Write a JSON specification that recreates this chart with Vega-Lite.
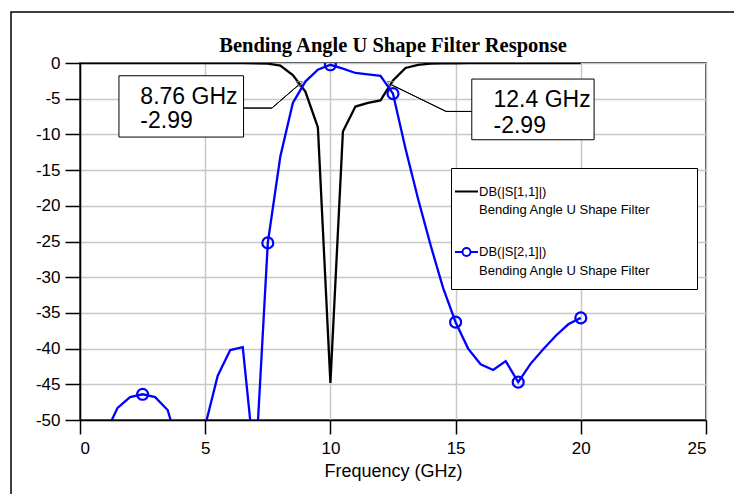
{
  "$schema": "https://vega.github.io/schema/vega-lite/v6.json",
  "autosize": {"type": "none"},
  "width": 626,
  "height": 357,
  "padding": {"left": 80, "top": 63, "right": 28, "bottom": 74},
  "background": "white",
  "title": {
    "text": "Bending Angle U Shape Filter Response",
    "font": "Liberation Serif",
    "fontSize": 20.5,
    "fontWeight": "bold",
    "color": "black",
    "anchor": "middle",
    "baseline": "alphabetic",
    "offset": 11,
    "dy": 74,
    "frame": "group"
  },
  "datasets": {
    "curves": [
      {"f": 0, "series": "DB(|S[1,1]|)", "db": 0},
      {"f": 0.5, "series": "DB(|S[1,1]|)", "db": 0},
      {"f": 1, "series": "DB(|S[1,1]|)", "db": 0},
      {"f": 1.5, "series": "DB(|S[1,1]|)", "db": 0},
      {"f": 2, "series": "DB(|S[1,1]|)", "db": 0},
      {"f": 2.5, "series": "DB(|S[1,1]|)", "db": 0},
      {"f": 3, "series": "DB(|S[1,1]|)", "db": 0},
      {"f": 3.5, "series": "DB(|S[1,1]|)", "db": 0},
      {"f": 4, "series": "DB(|S[1,1]|)", "db": 0},
      {"f": 4.5, "series": "DB(|S[1,1]|)", "db": -0.01},
      {"f": 5, "series": "DB(|S[1,1]|)", "db": -0.01},
      {"f": 5.5, "series": "DB(|S[1,1]|)", "db": -0.02},
      {"f": 6, "series": "DB(|S[1,1]|)", "db": -0.02},
      {"f": 6.5, "series": "DB(|S[1,1]|)", "db": -0.03},
      {"f": 7, "series": "DB(|S[1,1]|)", "db": -0.05},
      {"f": 7.5, "series": "DB(|S[1,1]|)", "db": -0.1},
      {"f": 8, "series": "DB(|S[1,1]|)", "db": -0.35},
      {"f": 8.5, "series": "DB(|S[1,1]|)", "db": -1.7},
      {"f": 9, "series": "DB(|S[1,1]|)", "db": -4.0},
      {"f": 9.5, "series": "DB(|S[1,1]|)", "db": -9.0},
      {"f": 10, "series": "DB(|S[1,1]|)", "db": -44.8},
      {"f": 10.5, "series": "DB(|S[1,1]|)", "db": -9.6},
      {"f": 11, "series": "DB(|S[1,1]|)", "db": -6.1},
      {"f": 11.5, "series": "DB(|S[1,1]|)", "db": -5.6},
      {"f": 12, "series": "DB(|S[1,1]|)", "db": -5.25},
      {"f": 12.5, "series": "DB(|S[1,1]|)", "db": -2.45},
      {"f": 13, "series": "DB(|S[1,1]|)", "db": -0.7},
      {"f": 13.5, "series": "DB(|S[1,1]|)", "db": -0.25},
      {"f": 14, "series": "DB(|S[1,1]|)", "db": -0.1},
      {"f": 14.5, "series": "DB(|S[1,1]|)", "db": -0.06},
      {"f": 15, "series": "DB(|S[1,1]|)", "db": -0.04},
      {"f": 15.5, "series": "DB(|S[1,1]|)", "db": -0.03},
      {"f": 16, "series": "DB(|S[1,1]|)", "db": -0.03},
      {"f": 16.5, "series": "DB(|S[1,1]|)", "db": -0.02},
      {"f": 17, "series": "DB(|S[1,1]|)", "db": -0.02},
      {"f": 17.5, "series": "DB(|S[1,1]|)", "db": -0.02},
      {"f": 18, "series": "DB(|S[1,1]|)", "db": -0.01},
      {"f": 18.5, "series": "DB(|S[1,1]|)", "db": -0.01},
      {"f": 19, "series": "DB(|S[1,1]|)", "db": -0.01},
      {"f": 19.5, "series": "DB(|S[1,1]|)", "db": -0.01},
      {"f": 20, "series": "DB(|S[1,1]|)", "db": -0.01},
      {"f": 0, "series": "DB(|S[2,1]|)", "db": -62},
      {"f": 0.5, "series": "DB(|S[2,1]|)", "db": -56},
      {"f": 1, "series": "DB(|S[2,1]|)", "db": -52},
      {"f": 1.5, "series": "DB(|S[2,1]|)", "db": -48.3},
      {"f": 2, "series": "DB(|S[2,1]|)", "db": -46.8},
      {"f": 2.5, "series": "DB(|S[2,1]|)", "db": -46.4},
      {"f": 3, "series": "DB(|S[2,1]|)", "db": -46.8},
      {"f": 3.5, "series": "DB(|S[2,1]|)", "db": -48.6},
      {"f": 4, "series": "DB(|S[2,1]|)", "db": -54.5},
      {"f": 4.5, "series": "DB(|S[2,1]|)", "db": -60},
      {"f": 5, "series": "DB(|S[2,1]|)", "db": -50.8},
      {"f": 5.5, "series": "DB(|S[2,1]|)", "db": -43.8},
      {"f": 6, "series": "DB(|S[2,1]|)", "db": -40.2},
      {"f": 6.5, "series": "DB(|S[2,1]|)", "db": -39.8},
      {"f": 7, "series": "DB(|S[2,1]|)", "db": -57},
      {"f": 7.5, "series": "DB(|S[2,1]|)", "db": -25.2},
      {"f": 8, "series": "DB(|S[2,1]|)", "db": -13.1},
      {"f": 8.5, "series": "DB(|S[2,1]|)", "db": -5.6},
      {"f": 9, "series": "DB(|S[2,1]|)", "db": -2.6},
      {"f": 9.5, "series": "DB(|S[2,1]|)", "db": -0.94},
      {"f": 10, "series": "DB(|S[2,1]|)", "db": -0.25},
      {"f": 10.5, "series": "DB(|S[2,1]|)", "db": -0.8},
      {"f": 11, "series": "DB(|S[2,1]|)", "db": -1.4},
      {"f": 11.5, "series": "DB(|S[2,1]|)", "db": -1.6},
      {"f": 12, "series": "DB(|S[2,1]|)", "db": -1.8},
      {"f": 12.5, "series": "DB(|S[2,1]|)", "db": -4.3},
      {"f": 13, "series": "DB(|S[2,1]|)", "db": -12},
      {"f": 13.5, "series": "DB(|S[2,1]|)", "db": -19},
      {"f": 14, "series": "DB(|S[2,1]|)", "db": -25.5},
      {"f": 14.5, "series": "DB(|S[2,1]|)", "db": -31.5},
      {"f": 15, "series": "DB(|S[2,1]|)", "db": -36.3},
      {"f": 15.5, "series": "DB(|S[2,1]|)", "db": -40},
      {"f": 16, "series": "DB(|S[2,1]|)", "db": -42.2},
      {"f": 16.5, "series": "DB(|S[2,1]|)", "db": -43},
      {"f": 17, "series": "DB(|S[2,1]|)", "db": -41.75},
      {"f": 17.5, "series": "DB(|S[2,1]|)", "db": -44.7},
      {"f": 18, "series": "DB(|S[2,1]|)", "db": -42.1},
      {"f": 18.5, "series": "DB(|S[2,1]|)", "db": -40.1},
      {"f": 19, "series": "DB(|S[2,1]|)", "db": -38.2},
      {"f": 19.5, "series": "DB(|S[2,1]|)", "db": -36.6},
      {"f": 20, "series": "DB(|S[2,1]|)", "db": -35.7}
    ],
    "callouts": [
      {"f": 8.76, "db": -2.99, "fLabel": "8.76 GHz", "vLabel": "-2.99"},
      {"f": 12.4, "db": -2.99, "fLabel": "12.4 GHz", "vLabel": "-2.99"}
    ]
  },
  "encoding": {
    "x": {
      "field": "f",
      "type": "quantitative",
      "scale": {"domain": [0, 25], "nice": false},
      "axis": {"values": [0, 5, 10, 15, 20, 25], "title": "Frequency (GHz)", "labelExpr": "'' + datum.value"}
    },
    "y": {
      "field": "db",
      "type": "quantitative",
      "scale": {"domain": [-50, 0], "nice": false},
      "axis": {"values": [0, -5, -10, -15, -20, -25, -30, -35, -40, -45, -50], "title": null, "labelExpr": "'' + datum.value"}
    }
  },
  "layer": [
    {
      "data": {"name": "curves"},
      "mark": {"type": "line", "strokeWidth": 2.3, "clip": true},
      "encoding": {
        "color": {
          "field": "series",
          "type": "nominal",
          "scale": {"domain": ["DB(|S[1,1]|)", "DB(|S[2,1]|)"], "range": ["black", "blue"]},
          "legend": {
            "title": " ",
            "titleOrient": "right",
            "titlePadding": 36,
            "titleFontSize": 4,
            "orient": "none",
            "legendX": 371,
            "legendY": 105,
            "padding": 11,
            "strokeColor": "black",
            "fillColor": "white",
            "symbolOffset": -8,
            "labelOffset": 0,
            "rowPadding": 22.5,
            "symbolSize": 529,
            "symbolStrokeWidth": 2,
            "labelFont": "Liberation Sans",
            "labelFontSize": 13,
            "labelColor": "black",
            "labelLimit": 400,
            "labelExpr": "[datum.label, 'Bending Angle U Shape Filter']",
            "encode": {
              "symbols": {"update": {"shape": {"signal": "datum.value == 'DB(|S[2,1]|)' ? 'M-1,0H-0.35M0.35,0H1M-0.35,0A0.35,0.35 0 1,1 0.35,0A0.35,0.35 0 1,1 -0.35,0' : 'M-1,0H1'"}}},
              "labels": {"update": {"lineHeight": {"value": 18.5}}}
            }
          }
        }
      }
    },
    {
      "data": {"name": "curves"},
      "transform": [{"filter": "datum.series == 'DB(|S[2,1]|)' && datum.f % 2.5 == 0"}],
      "mark": {"type": "point", "filled": false, "color": "blue", "strokeWidth": 2.2, "size": 120, "opacity": 1, "clip": true}
    },
    {
      "data": {"name": "callouts"},
      "transform": [{"filter": "datum.f < 10"}],
      "mark": {"type": "point", "shape": "M-180.4,-8.6H-55.8V52.7H-180.4Z M-55.8,23.7H-27.4L0,0L-27.4,23.7Z", "size": 4, "filled": true, "fill": "white", "stroke": "black", "strokeWidth": 1, "opacity": 1}
    },
    {
      "data": {"name": "callouts"},
      "transform": [{"filter": "datum.f > 10"}],
      "mark": {"type": "point", "shape": "M81.3,-5.3H203.6V55.4H81.3Z M81.3,27.1H55.6L0,0L55.6,27.1Z", "size": 4, "filled": true, "fill": "white", "stroke": "black", "strokeWidth": 1, "opacity": 1}
    },
    {
      "data": {"name": "callouts"},
      "mark": {"type": "point", "shape": "triangle-down", "size": 40, "filled": false, "color": "#777777", "strokeWidth": 1, "opacity": 1}
    },
    {
      "data": {"name": "callouts"},
      "transform": [{"filter": "datum.f < 10"}],
      "mark": {"type": "text", "align": "left", "baseline": "alphabetic", "dx": -159, "dy": 19.5, "font": "Liberation Sans", "fontSize": 23, "color": "black"},
      "encoding": {"text": {"field": "fLabel"}}
    },
    {
      "data": {"name": "callouts"},
      "transform": [{"filter": "datum.f < 10"}],
      "mark": {"type": "text", "align": "left", "baseline": "alphabetic", "dx": -159, "dy": 43.5, "font": "Liberation Sans", "fontSize": 23, "color": "black"},
      "encoding": {"text": {"field": "vLabel"}}
    },
    {
      "data": {"name": "callouts"},
      "transform": [{"filter": "datum.f > 10"}],
      "mark": {"type": "text", "align": "left", "baseline": "alphabetic", "dx": 103, "dy": 22.7, "font": "Liberation Sans", "fontSize": 23, "color": "black"},
      "encoding": {"text": {"field": "fLabel"}}
    },
    {
      "data": {"name": "callouts"},
      "transform": [{"filter": "datum.f > 10"}],
      "mark": {"type": "text", "align": "left", "baseline": "alphabetic", "dx": 103, "dy": 48.7, "font": "Liberation Sans", "fontSize": 23, "color": "black"},
      "encoding": {"text": {"field": "vLabel"}}
    },
    {
      "data": {"values": [{"f": 0, "db": 0}]},
      "mark": {"type": "point", "shape": "M-69,-51H656V441H-69Z", "size": 4, "filled": false, "fill": "transparent", "stroke": "black", "strokeWidth": 1.5, "opacity": 1, "clip": false}
    }
  ],
  "config": {
    "view": {"stroke": "black", "strokeWidth": 1.5},
    "axis": {
      "grid": true,
      "gridColor": "#c8c8c8",
      "gridWidth": 1.5,
      "domainColor": "black",
      "domainWidth": 1.5,
      "tickColor": "black",
      "tickWidth": 1.5,
      "labelFont": "Liberation Sans",
      "labelFontSize": 17,
      "labelColor": "black",
      "titleFont": "Liberation Sans",
      "titleFontSize": 18,
      "titleFontWeight": "normal",
      "titleColor": "black"
    },
    "axisX": {"tickSize": 14, "labelPadding": 6, "titlePadding": 6},
    "axisY": {"tickSize": 15, "labelPadding": 5}
  }
}
